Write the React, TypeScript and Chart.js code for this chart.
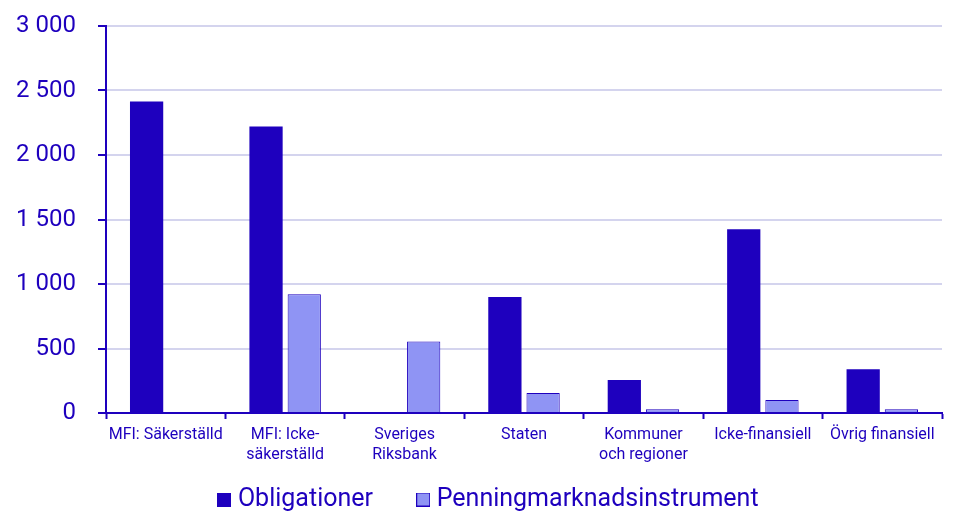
import React, { useEffect, useRef } from 'react';
import { Chart, registerables } from 'chart.js';

Chart.register(...registerables);

const categories: (string | string[])[] = [
  'MFI: Säkerställd',
  ['MFI: Icke-', 'säkerställd'],
  ['Sveriges', 'Riksbank'],
  'Staten',
  ['Kommuner', 'och regioner'],
  'Icke-finansiell',
  'Övrig finansiell',
];

const seriesNames = ['Obligationer', 'Penningmarknadsinstrument'];
const obligationer = [2415, 2220, 0, 900, 255, 1425, 340];
const penningmarknad = [0, 920, 555, 155, 30, 100, 30];

const yTicks = [0, 500, 1000, 1500, 2000, 2500, 3000];

const DARK = '#1e00be';
const LIGHT = '#8f94f4';
const GRID = '#d4d4ee';

// small square swatch for the legend
const makeSwatch = (fill: string, stroke: string) => {
  const c = document.createElement('canvas');
  c.width = 14;
  c.height = 14;
  const g = c.getContext('2d')!;
  g.fillStyle = fill;
  g.fillRect(0, 0, 14, 14);
  g.strokeStyle = stroke;
  g.lineWidth = 1;
  g.strokeRect(0.5, 0.5, 13, 13);
  return c;
};

// the original legend sits a bit right of the canvas centre
const legendShift = {
  id: 'legendShift',
  afterLayout: (chart: Chart) => {
    if (chart.legend) {
      chart.legend.left += 13;
      chart.legend.right += 13;
    }
  },
};

const App: React.FC = () => {
  const chartRef = useRef<HTMLCanvasElement | null>(null);

  useEffect(() => {
    document.body.style.margin = '0';
    if (!chartRef.current) return;
    const ctx = chartRef.current.getContext('2d');
    const swatches = [makeSwatch(DARK, DARK), makeSwatch(LIGHT, DARK)];

    const chart = new Chart(ctx!, {
      type: 'bar',
      data: {
        labels: categories,
        datasets: [
          {
            label: seriesNames[0],
            data: obligationer,
            backgroundColor: DARK,
            borderColor: DARK,
            borderWidth: 0,
            categoryPercentage: 0.64,
            barPercentage: 0.87,
          },
          {
            label: seriesNames[1],
            data: penningmarknad,
            backgroundColor: LIGHT,
            borderColor: DARK,
            borderWidth: 1,
            categoryPercentage: 0.64,
            barPercentage: 0.87,
          },
        ],
      },
      plugins: [legendShift],
      options: {
        responsive: true,
        maintainAspectRatio: false,
        animation: false,
        layout: { padding: { top: 26, right: 22, left: 14, bottom: 10 } },
        plugins: {
          tooltip: { enabled: false },
          legend: {
            position: 'bottom',
            labels: {
              color: DARK,
              font: { family: 'Roboto', size: 25 },
              usePointStyle: true,
              pointStyleWidth: 2,
              boxHeight: 14,
              padding: 12,
              generateLabels: (c) => {
                const items = Chart.defaults.plugins.legend.labels.generateLabels(c);
                items.forEach((it, i) => {
                  it.pointStyle = swatches[i];
                });
                // wider gap after the first item, like the original
                if (items[0]) items[0].text = items[0].text + '      ';
                return items;
              },
            },
          },
        },
        scales: {
          x: {
            afterFit: (axis) => {
              axis.height += 4;
            },
            grid: {
              drawOnChartArea: false,
              tickColor: DARK,
              tickLength: 6,
              tickWidth: 2,
            },
            border: { color: DARK, width: 2 },
            ticks: {
              color: DARK,
              font: { family: 'Roboto', size: 16, lineHeight: 1.25 },
              padding: 6,
              maxRotation: 0,
              autoSkip: false,
            },
          },
          y: {
            min: 0,
            max: 3000,
            afterBuildTicks: (axis) => {
              axis.ticks = yTicks.map((v) => ({ value: v }));
            },
            afterFit: (axis) => {
              axis.width = 92;
              axis.paddingTop = 0;
              axis.paddingBottom = 0;
            },
            grid: {
              color: GRID,
              lineWidth: 2,
              tickColor: DARK,
              tickLength: 8,
              tickWidth: 2,
            },
            border: { color: DARK, width: 2 },
            ticks: {
              color: DARK,
              font: { family: 'Roboto', size: 24 },
              padding: 22,
              callback: (v) => String(v).replace(/\B(?=(\d{3})+(?!\d))/g, ' '),
            },
          },
        },
      },
    });

    return () => {
      chart.destroy();
    };
  }, []);

  return (
    <div style={{ width: '964px', height: '532px', background: '#fff' }}>
      <canvas ref={chartRef}></canvas>
    </div>
  );
};

export default App;
